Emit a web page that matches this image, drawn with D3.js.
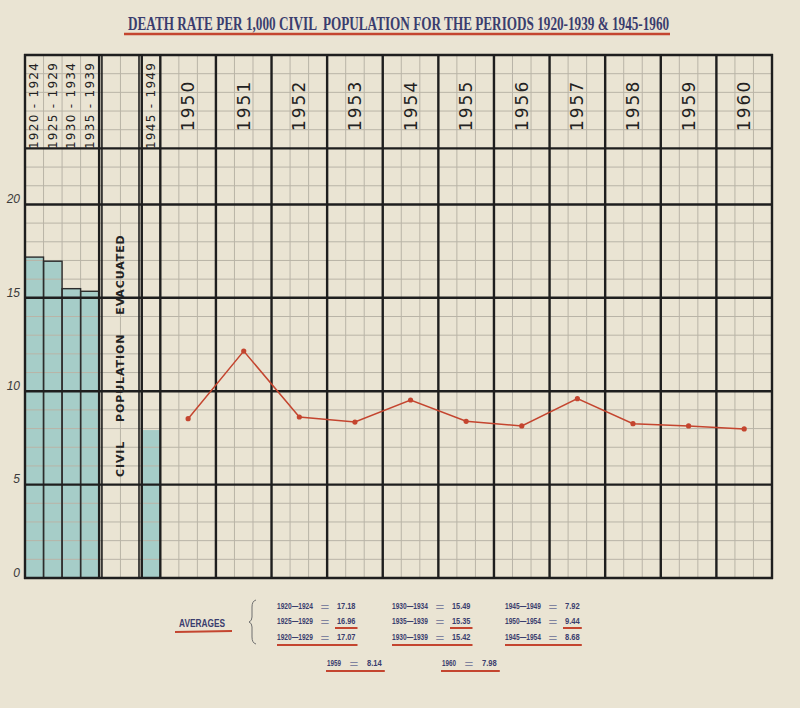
<!DOCTYPE html>
<html>
<head>
<meta charset="utf-8">
<script src="https://cdn.jsdelivr.net/npm/d3@7"></script>
<style>
  body { margin: 0; background: #e9e3d1; }
  svg { display: block; }
</style>
</head>
<body>
<div id="chart"></div>
<script>
// pre-war five year periods
const periods = ['1920 - 1924', '1925 - 1929', '1930 - 1934', '1935 - 1939'];
const periodRates = [17.18, 16.96, 15.49, 15.35];

// evacuation period
const evacPeriods = ['1945 - 1949'];
const evacRates = [7.92];

// yearly rates 1950-1960
const years = ['1950', '1951', '1952', '1953', '1954', '1955', '1956', '1957', '1958', '1959', '1960'];
const yearRates = [8.53, 12.15, 8.62, 8.35, 9.53, 8.39, 8.14, 9.6, 8.26, 8.14, 7.98];

const yTicks = [0, 5, 10, 15, 20];

// averages printed under the chart
const avgCol1 = [['1920—1924', '17.18'], ['1925—1929', '16.96'], ['1920—1929', '17.07']];
const avgCol2 = [['1930—1934', '15.49'], ['1935—1939', '15.35'], ['1930—1939', '15.42']];
const avgCol3 = [['1945—1949', '7.92'], ['1950—1954', '9.44'], ['1945—1954', '8.68']];
const avgSingle = [['1959', '8.14'], ['1960', '7.98']];

const title = 'DEATH RATE PER 1,000 CIVIL  POPULATION FOR THE PERIODS 1920-1939 & 1945-1960';
const sideNote = 'CIVIL    POPULATION    EVACUATED';

const paper = '#eae4d3';
const ink = '#1e1e1e';
const gridCol = '#b9b4a7';
const red = '#c4452f';
const navy = '#3a3d6e';
const teal = '#a6cdc8';

const svg = d3.select('#chart').append('svg')
  .attr('width', 800)
  .attr('height', 708);

svg.append('rect').attr('width', 800).attr('height', 708).attr('fill', paper);

// graph paper units
let x = d3.scaleLinear().domain([0, 40.3]).range([25, 772]);
let y = d3.scaleLinear().domain([0, 28]).range([578, 55]);

let xPeriod = d3.scaleBand().domain(periods).range([x(0), x(4)]);
let xEvac = d3.scaleBand().domain(evacPeriods).range([x(6.3), x(7.3)]);
let xYear = d3.scaleBand().domain(years).range([x(7.3), x(40.3)]);

// squeeze a text horizontally so it fills the given width
function fit(sel, x0, y0, w) {
  let tw = sel.node().getComputedTextLength();
  sel.attr('transform', 'translate(' + x0 + ',' + y0 + ') scale(' + (w / tw) + ',1)');
  return sel;
}

// teal bars (under the grid)
svg.append('g').selectAll('rect')
  .data(periodRates)
  .enter().append('rect')
  .attr('x', (d, i) => xPeriod(periods[i]))
  .attr('width', xPeriod.bandwidth())
  .attr('y', d => y(d))
  .attr('height', d => y(0) - y(d))
  .attr('fill', teal);

svg.append('g').selectAll('rect')
  .data(evacRates)
  .enter().append('rect')
  .attr('x', (d, i) => xEvac(evacPeriods[i]) + 1)
  .attr('width', xEvac.bandwidth() - 1)
  .attr('y', d => y(d))
  .attr('height', d => y(0) - y(d))
  .attr('fill', teal);

// fine grid
let major = [0, 5, 10, 15, 20, 23, 28];
let hFine = d3.range(1, 28).filter(v => !major.includes(v));
svg.append('g').selectAll('line')
  .data(hFine)
  .enter().append('line')
  .attr('x1', x(0)).attr('x2', x(40.3))
  .attr('y1', d => y(d)).attr('y2', d => y(d))
  .attr('stroke', gridCol)
  .attr('stroke-width', 1);

let vFine = [1, 2, 3, 5.15];
years.forEach((yr, i) => { vFine.push(7.3 + 3 * i + 1, 7.3 + 3 * i + 2); });
svg.append('g').selectAll('line')
  .data(vFine)
  .enter().append('line')
  .attr('x1', d => x(d)).attr('x2', d => x(d))
  .attr('y1', y(0)).attr('y2', y(28))
  .attr('stroke', gridCol)
  .attr('stroke-width', 1);

// bar outlines
svg.append('g').selectAll('rect')
  .data(periodRates)
  .enter().append('rect')
  .attr('x', (d, i) => xPeriod(periods[i]))
  .attr('width', xPeriod.bandwidth())
  .attr('y', d => y(d))
  .attr('height', d => y(0) - y(d))
  .attr('fill', 'none')
  .attr('stroke', '#2c2c2c')
  .attr('stroke-width', 1.4);

// heavy lines
svg.append('g').selectAll('line')
  .data(major)
  .enter().append('line')
  .attr('x1', x(0) - 1).attr('x2', x(40.3) + 1)
  .attr('y1', d => y(d)).attr('y2', d => y(d))
  .attr('stroke', ink)
  .attr('stroke-width', 2.4);

let vMajor = [0, 4, 4.15, 6.15, 6.3];
years.forEach((yr, i) => vMajor.push(7.3 + 3 * i));
vMajor.push(40.3);
svg.append('g').selectAll('line')
  .data(vMajor)
  .enter().append('line')
  .attr('x1', d => x(d)).attr('x2', d => x(d))
  .attr('y1', y(0) + 1).attr('y2', y(28) - 1)
  .attr('stroke', ink)
  .attr('stroke-width', d => (d === 4.15 || d === 6.15) ? 1.6 : 2.4);

// y labels
let yAxis = svg.append('g')
  .attr('transform', 'translate(' + (x(0) - 3) + ',0)')
  .call(d3.axisLeft(y).tickValues(yTicks).tickSize(0).tickPadding(2));
yAxis.select('.domain').remove();
yAxis.selectAll('text')
  .attr('dy', '-0.15em')
  .attr('font-family', 'Liberation Sans, sans-serif')
  .attr('font-style', 'italic')
  .attr('font-size', '12px')
  .attr('fill', '#3a3a3a');

// header labels (rotated)
svg.append('g').selectAll('text')
  .data(periods.concat(evacPeriods))
  .enter().append('text')
  .attr('transform', (d, i) => {
    let cx = i < periods.length ? xPeriod(d) + xPeriod.bandwidth() / 2 : xEvac(d) + xEvac.bandwidth() / 2;
    return 'translate(' + cx + ',' + y(25.3) + ') rotate(-90)';
  })
  .attr('text-anchor', 'middle')
  .attr('dominant-baseline', 'central')
  .attr('font-family', 'DejaVu Sans, sans-serif')
  .attr('font-size', '12px')
  .attr('letter-spacing', '1.3px')
  .attr('fill', '#222')
  .text(d => d);

svg.append('g').selectAll('text')
  .data(years)
  .enter().append('text')
  .attr('transform', d => 'translate(' + (xYear(d) + xYear.bandwidth() / 2) + ',' + y(25.3) + ') rotate(-90)')
  .attr('text-anchor', 'middle')
  .attr('dominant-baseline', 'central')
  .attr('font-family', 'DejaVu Sans, sans-serif')
  .attr('font-size', '17px')
  .attr('letter-spacing', '2px')
  .attr('fill', '#222')
  .text(d => d);

// side note in the evacuated gap
svg.append('text')
  .attr('transform', 'translate(' + x(5.15) + ',' + y(11.9) + ') rotate(-90)')
  .attr('text-anchor', 'middle')
  .attr('dominant-baseline', 'central')
  .attr('font-family', 'DejaVu Sans, sans-serif')
  .attr('font-weight', 'bold')
  .attr('font-size', '11px')
  .attr('letter-spacing', '0.9px')
  .style('white-space', 'pre')
  .attr('fill', '#222')
  .text(sideNote);

// red line
let lineData = years.map((yr, i) => ({ year: yr, v: yearRates[i] }));
let line = d3.line()
  .x(d => xYear(d.year) + xYear.bandwidth() / 2)
  .y(d => y(d.v));

svg.append('path')
  .datum(lineData)
  .attr('d', line)
  .attr('fill', 'none')
  .attr('stroke', red)
  .attr('stroke-width', 1.5);

svg.append('g').selectAll('circle')
  .data(lineData)
  .enter().append('circle')
  .attr('cx', d => xYear(d.year) + xYear.bandwidth() / 2)
  .attr('cy', d => y(d.v))
  .attr('r', 2.6)
  .attr('fill', red);

// title, squeezed to the printed width
let titleText = svg.append('text')
  .attr('font-family', 'Liberation Serif, serif')
  .attr('font-weight', 'bold')
  .attr('font-size', '18px')
  .attr('fill', navy)
  .style('white-space', 'pre')
  .text(title);
fit(titleText, 128, 30, 542);

svg.append('line')
  .attr('x1', 124).attr('x2', 670).attr('y1', 34).attr('y2', 34)
  .attr('stroke', red).attr('stroke-width', 2.4);

// averages block
let avg = svg.append('g')
  .attr('font-family', 'Liberation Sans, sans-serif')
  .attr('font-weight', 'bold')
  .attr('fill', navy);

fit(avg.append('text').attr('font-size', '10px').text('AVERAGES'), 179, 627, 46);
avg.append('line')
  .attr('x1', 175).attr('x2', 232).attr('y1', 632).attr('y2', 631)
  .attr('stroke', red).attr('stroke-width', 2);

avg.append('path')
  .attr('d', 'M256,600 Q252,601 252,607 L252,617 Q252,621 249,622 Q252,623 252,627 L252,637 Q252,643 256,644')
  .attr('fill', 'none')
  .attr('stroke', '#6f6f6f')
  .attr('stroke-width', 1);

let colX = [277, 392, 505];
let rowY = [609, 624, 640];

function avgEntry(x0, yy, label, value, labelW, eqOff, valOff) {
  fit(avg.append('text').attr('font-size', '9px').text(label), x0, yy, labelW);
  avg.append('text')
    .attr('text-anchor', 'middle')
    .attr('font-weight', 'normal')
    .attr('font-size', '10px')
    .attr('transform', 'translate(' + (x0 + eqOff) + ',' + (yy + 1.5) + ') scale(1.5,1)')
    .attr('fill', '#80839f')
    .text('=');
  let vw = value.length * 3.7;
  fit(avg.append('text').attr('font-size', '9px').text(value), x0 + valOff, yy, vw);
  return x0 + valOff + vw;
}

[avgCol1, avgCol2, avgCol3].forEach((col, c) => {
  col.forEach((row, r) => {
    let end = avgEntry(colX[c], rowY[r], row[0], row[1], 36, 48, 60);
    if (r === 1) {
      avg.append('line')
        .attr('x1', colX[c] + 58).attr('x2', end + 2)
        .attr('y1', rowY[r] + 4).attr('y2', rowY[r] + 4)
        .attr('stroke', red).attr('stroke-width', 2);
    }
    if (r === 2) {
      avg.append('line')
        .attr('x1', colX[c]).attr('x2', end + 2)
        .attr('y1', rowY[r] + 5).attr('y2', rowY[r] + 5)
        .attr('stroke', red).attr('stroke-width', 2);
    }
  });
});

let singleX = [327, 442];
avgSingle.forEach((row, i) => {
  let end = avgEntry(singleX[i], 666, row[0], row[1], 14, 27, 40);
  avg.append('line')
    .attr('x1', singleX[i] - 1).attr('x2', end + 3)
    .attr('y1', 671).attr('y2', 671)
    .attr('stroke', red).attr('stroke-width', 2);
});
</script>
</body>
</html>
